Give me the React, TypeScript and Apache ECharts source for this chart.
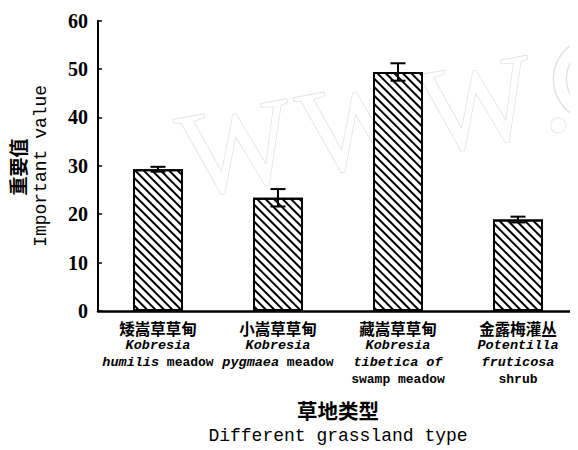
import React, { useEffect, useRef } from "react";
import * as echarts from "echarts";

const cjkNames = ["矮嵩草草甸", "小嵩草草甸", "藏嵩草草甸", "金露梅灌丛"];
const latinLines = [
  [["i", "Kobresia"], ["i", "humilis", "m", " meadow"]],
  [["i", "Kobresia"], ["i", "pygmaea", "m", " meadow"]],
  [["i", "Kobresia"], ["i", "tibetica of"], ["m", "swamp meadow"]],
  [["i", "Potentilla"], ["i", "fruticosa"], ["m", "shrub"]],
];
const values = [29.3, 23.4, 49.4, 18.9];
const errors = [0.5, 1.8, 1.8, 0.6];
const yTicks = [0, 10, 20, 30, 40, 50, 60];
const watermarkGlyphs = ["W", "W", "W", "."];

const MONO = '"Liberation Mono", "DejaVu Sans Mono", monospace';
const SERIF = '"Liberation Serif", "DejaVu Serif", serif';
const CJK = '"Noto Sans CJK SC", sans-serif';

export default function App() {
  const ref = useRef<HTMLDivElement>(null);
  useEffect(() => {
    if (!ref.current) return;
    const chart = echarts.init(ref.current, null, { renderer: "svg" });
    const labelFor = (idx: number) => {
      const lines = latinLines[idx].map((parts) => {
        let s = "";
        for (let k = 0; k < parts.length; k += 2) s += `{${parts[k]}|${parts[k + 1]}}`;
        return s;
      });
      return [`{c|${cjkNames[idx]}}`, ...lines].join("\n");
    };
    const wm = "#e2e2e2";
    const wmSize = 122;
    const wmX = [0, 122, 244, 362];
    chart.setOption({
      animation: false,
      backgroundColor: "#fff",
      graphic: [
        {
          type: "group",
          x: 188,
          y: 198,
          rotation: 0.18,
          silent: true,
          z: -10,
          children: [
            ...watermarkGlyphs.map((g, i) => ({
              type: "text",
              x: wmX[i],
              y: -0.3375 * wmSize,
              style: {
                text: g,
                font: `normal ${wmSize}px ${SERIF}`,
                textAlign: "left",
                textVerticalAlign: "middle",
                fill: "#fff",
                stroke: wm,
                lineWidth: 1.5,
              },
            })),
            {
              type: "arc",
              shape: { cx: 422, cy: -44, r: 42, startAngle: Math.PI * 0.62, endAngle: Math.PI * 1.42 },
              style: { stroke: wm, lineWidth: 1.5, fill: "none" },
            },
            {
              type: "arc",
              shape: { cx: 426, cy: -44, r: 33, startAngle: Math.PI * 0.66, endAngle: Math.PI * 1.38 },
              style: { stroke: wm, lineWidth: 1.5, fill: "none" },
            },
          ],
        },
        {
          type: "text",
          x: 17,
          y: 167,
          rotation: Math.PI / 2,
          style: {
            text: "重要值",
            font: `bold 19px ${CJK}`,
            fill: "#000",
            textAlign: "center",
            textVerticalAlign: "middle",
          },
        },
      ],
      grid: { left: 98, top: 20.7, bottom: 136.7, right: 0 },
      xAxis: {
        type: "category",
        data: cjkNames,
        axisLine: { lineStyle: { color: "#000", width: 2.5 } },
        axisTick: { inside: true, length: 4, lineStyle: { color: "#000", width: 1.5 } },
        axisLabel: {
          interval: 0,
          margin: 8.5,
          formatter: (_v: string, idx: number) => labelFor(idx),
          rich: {
            c: { fontFamily: CJK, fontWeight: "bold", fontSize: 15.5, lineHeight: 17, color: "#000" },
            i: { fontFamily: MONO, fontStyle: "italic", fontWeight: "bold", fontSize: 13.5, lineHeight: 17, color: "#000" },
            m: { fontFamily: MONO, fontWeight: "bold", fontSize: 13, lineHeight: 17, color: "#000" },
          },
        },
        name: "{a|草地类型}\n{b|Different grassland type}",
        nameLocation: "middle",
        nameGap: 86,
        nameTextStyle: {
          rich: {
            a: { fontFamily: CJK, fontWeight: "bold", fontSize: 20.5, lineHeight: 26, color: "#000" },
            b: { fontFamily: MONO, fontSize: 18, lineHeight: 26, color: "#000" },
          },
        },
      },
      yAxis: {
        type: "value",
        min: 0,
        max: 60,
        interval: 10,
        axisLine: { show: true, lineStyle: { color: "#000", width: 2 } },
        axisTick: { show: true, inside: true, length: 4, lineStyle: { color: "#000", width: 1.5 } },
        splitLine: { show: false },
        axisLabel: {
          margin: 10,
          fontFamily: SERIF,
          fontWeight: "bold",
          fontSize: 20,
          color: "#000",
          formatter: (v: number) => (yTicks.includes(v) ? String(v) : ""),
        },
        name: "Important value",
        nameLocation: "middle",
        nameGap: 48,
        nameTextStyle: { fontFamily: MONO, fontSize: 18, color: "#000" },
      },
      series: [
        {
          type: "bar",
          data: values,
          barWidth: 50,
          itemStyle: {
            color: "#fff",
            borderColor: "#000",
            borderWidth: 2,
            decal: {
              symbol: "rect",
              symbolSize: 1,
              color: "#000",
              backgroundColor: "#fff",
              dashArrayX: [1, 0],
              dashArrayY: [1.5, 3.2],
              rotation: Math.PI / 4,
            },
          },
        },
        {
          type: "custom",
          data: values.map((v, i) => [i, v - errors[i], v + errors[i]]),
          z: 10,
          renderItem: (_p: any, api: any) => {
            const lo = api.coord([api.value(0), api.value(1)]);
            const hi = api.coord([api.value(0), api.value(2)]);
            const hw = 7.5;
            const st = { stroke: "#000", lineWidth: 2 };
            return {
              type: "group",
              children: [
                { type: "line", shape: { x1: lo[0], y1: lo[1], x2: hi[0], y2: hi[1] }, style: st },
                { type: "line", shape: { x1: lo[0] - hw, y1: lo[1], x2: lo[0] + hw, y2: lo[1] }, style: st },
                { type: "line", shape: { x1: hi[0] - hw, y1: hi[1], x2: hi[0] + hw, y2: hi[1] }, style: st },
              ],
            };
          },
        },
      ],
    });
    return () => chart.dispose();
  }, []);
  return <div ref={ref} style={{ width: 578, height: 450, marginLeft: -8, marginTop: -8 }} />;
}
